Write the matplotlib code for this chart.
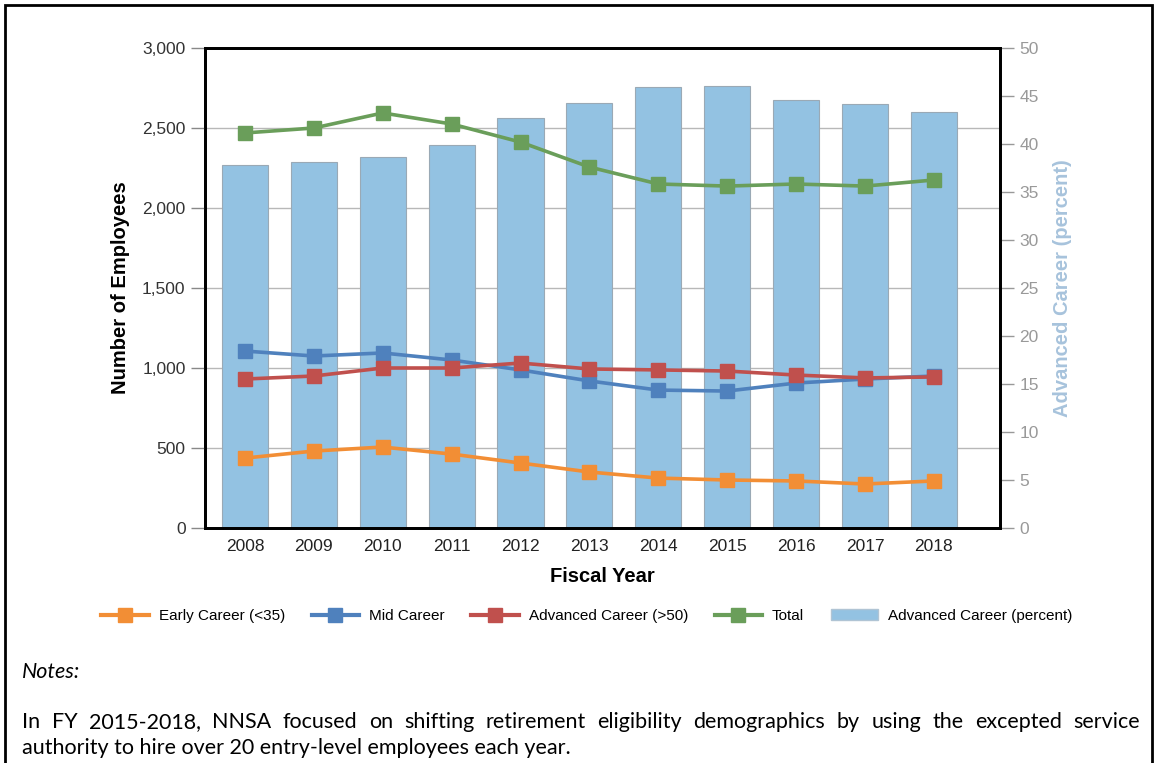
import matplotlib
matplotlib.use("Agg")
import matplotlib.pyplot as plt
from matplotlib.patches import Rectangle, Patch
from matplotlib.lines import Line2D
from matplotlib.ticker import FuncFormatter

years = [2008, 2009, 2010, 2011, 2012, 2013, 2014, 2015, 2016, 2017, 2018]
early = [437, 481, 506, 462, 406, 350, 312, 300, 294, 275, 294]
mid = [1106, 1075, 1094, 1050, 988, 919, 862, 856, 906, 931, 950]
advanced = [931, 950, 1000, 1000, 1031, 994, 988, 981, 956, 938, 944]
total = [2469, 2500, 2594, 2525, 2412, 2256, 2150, 2137, 2150, 2137, 2175]
adv_pct = [37.8, 38.1, 38.6, 39.9, 42.7, 44.3, 45.9, 46.0, 44.6, 44.2, 43.3]

series_names = ["Early Career (<35)", "Mid Career", "Advanced Career (>50)", "Total"]
bar_name = "Advanced Career (percent)"
colors = ["#f28e35", "#4f81bd", "#c0504d", "#6a9e5a"]
bar_color = "#93c2e2"

plt.rcParams['font.family'] = ['Liberation Sans', 'DejaVu Sans']

fig = plt.figure(figsize=(11.57, 7.63), dpi=100)
W, H = 1157, 763
ax = fig.add_axes([205 / W, 1 - 528 / H, (1000 - 205) / W, (528 - 48) / H])
ax2 = ax.twinx()

ax.set_zorder(2)
ax.patch.set_visible(False)
ax2.set_zorder(1)

ax2.bar(years, adv_pct, width=0.67, color=bar_color, edgecolor="#9aa9b5",
        linewidth=0.8, zorder=2)
ax2.set_ylim(0, 50)
ax2.set_yticks(range(0, 51, 5))
for y in range(500, 3000, 500):
    ax2.axhline(y / 60.0, color="#b8b8b8", lw=1.0, zorder=1)

for vals, c in zip([early, mid, advanced, total], colors):
    ax.plot(years, vals, color=c, lw=2.6, marker="s", markersize=10,
            markeredgecolor=c, zorder=3)

ax.set_xlim(2007.42, 2018.96)
ax.set_ylim(0, 3000)
ax.set_yticks(range(0, 3001, 500))
ax.set_xticks(years)
ax.yaxis.set_major_formatter(FuncFormatter(lambda v, p: f"{int(v):,}"))

for sp in ["left", "right", "top", "bottom"]:
    ax.spines[sp].set_linewidth(2.0)
    ax.spines[sp].set_color("black")
    ax2.spines[sp].set_linewidth(2.0)
    ax2.spines[sp].set_color("black")

ax.tick_params(axis="y", length=10, width=1, color="#888888", labelsize=12.5,
               labelcolor="#333333", pad=4)
ax.tick_params(axis="x", length=0, labelsize=12.5, labelcolor="#222222", pad=8)
ax2.tick_params(axis="y", length=10, width=1, color="#999999", labelsize=12.5,
                labelcolor="#999999", pad=4)

ax.set_ylabel("Number of Employees", fontsize=14.5, fontweight="bold", labelpad=9)
ax.set_xlabel("Fiscal Year", fontsize=14.5, fontweight="bold", labelpad=9)
ax2.set_ylabel(bar_name, fontsize=14.5, fontweight="bold", color="#a7c3dc",
               labelpad=10)

handles = [Line2D([0], [0], color=c, lw=3, marker="s", markersize=10)
           for c in colors]
handles.append(Patch(facecolor=bar_color, edgecolor="#b0c4d4"))
fig.legend(handles, series_names + [bar_name], loc="center",
           bbox_to_anchor=(587 / W, 1 - 616 / H), ncol=5, frameon=False,
           fontsize=11, handlelength=3.1, columnspacing=1.75, handletextpad=0.65)

fig.add_artist(Rectangle((5 / W, -0.01), (1152 - 5) / W, (763 - 5) / H + 0.01,
                         transform=fig.transFigure, fill=False, lw=2,
                         edgecolor="black"))

note_font = ["Lato", "DejaVu Sans"]
note_size = 15.5
fig.text(22 / W, 1 - 672 / H, "Notes:", fontsize=note_size, style="italic",
         family=note_font, va="center")

line1 = ("In FY 2015-2018, NNSA focused on shifting retirement eligibility "
         "demographics by using the excepted service").split()
line2 = "authority to hire over 20 entry-level employees each year."
fig.canvas.draw()
r = fig.canvas.get_renderer()
tobjs = [fig.text(0, 1 - 722 / H, w, fontsize=note_size, family=note_font,
                  va="center") for w in line1]
widths = [t.get_window_extent(r).width for t in tobjs]
x0, x1 = 22, 1140
gap = (x1 - x0 - sum(widths)) / (len(line1) - 1)
x = x0
for t, w in zip(tobjs, widths):
    t.set_x(x / W)
    x += w + gap
fig.text(22 / W, 1 - 748 / H, line2, fontsize=note_size, family=note_font,
         va="center")

fig.savefig("out.png", dpi=100)
